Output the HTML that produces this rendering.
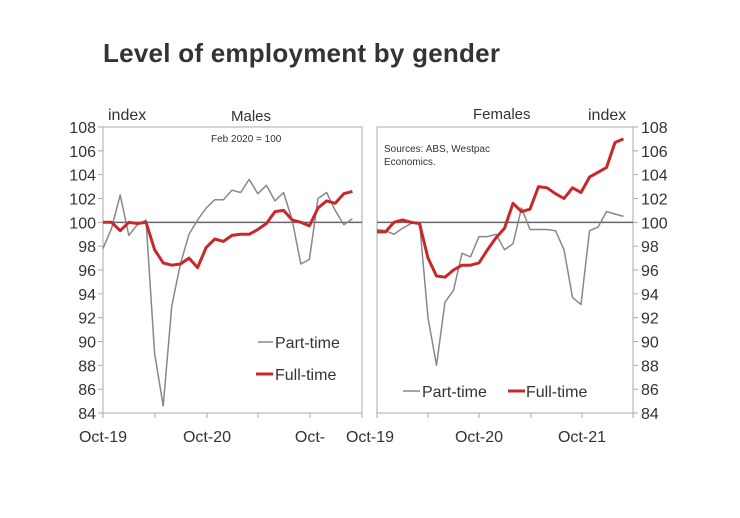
<!DOCTYPE html>
<html><head><meta charset="utf-8"><style>
body{margin:0;background:#fff;}
svg text{font-family:"Liberation Sans",Arial,sans-serif;fill:#333;}
</style></head><body>
<svg id="s" width="740" height="513" xmlns="http://www.w3.org/2000/svg">
<text x="103" y="62" font-size="26" font-weight="bold" fill="#333" textLength="397">Level of employment by gender</text>
<rect x="103" y="127" width="259" height="286" fill="none" stroke="#aaa" stroke-width="1"/>
<rect x="377" y="127" width="256" height="286" fill="none" stroke="#aaa" stroke-width="1"/>
<text x="108" y="120" font-size="16">index</text>
<text x="231" y="121" font-size="15">Males</text>
<text x="211" y="142" font-size="10">Feb 2020 = 100</text>
<text x="473" y="119" font-size="15">Females</text>
<text x="588" y="120" font-size="16">index</text>
<text x="384" y="152" font-size="10">Sources: ABS, Westpac</text>
<text x="384" y="165" font-size="10">Economics.</text>
<g id="g"></g>
<line x1="258" y1="342" x2="273" y2="342" stroke="#888" stroke-width="1.5"/>
<text x="275" y="348" font-size="16">Part-time</text>
<line x1="256" y1="374" x2="273" y2="374" stroke="#c8282a" stroke-width="3"/>
<text x="275" y="380" font-size="16">Full-time</text>
<line x1="403" y1="391" x2="420" y2="391" stroke="#888" stroke-width="1.5"/>
<text x="422" y="397" font-size="16">Part-time</text>
<line x1="508" y1="391" x2="525" y2="391" stroke="#c8282a" stroke-width="3"/>
<text x="526" y="397" font-size="16">Full-time</text>
<g font-size="16" text-anchor="middle">
<text x="103" y="442">Oct-19</text><text x="207" y="442">Oct-20</text><text x="310" y="442">Oct-</text>
<text x="370" y="442">Oct-19</text><text x="479" y="442">Oct-20</text><text x="582" y="442">Oct-21</text>
</g>
</svg>
<script>
var g=document.getElementById('g'),NS='http://www.w3.org/2000/svg';
function Y(v){return 127+(108-v)*11.917;}
function el(n,a,t){var e=document.createElementNS(NS,n);for(var k in a)e.setAttribute(k,a[k]);if(t!=null)e.textContent=t;g.appendChild(e);return e;}
for(var v=84;v<=108;v+=2){
 el('text',{x:96,y:Y(v)+6,'font-size':16,'text-anchor':'end'},v);
 el('text',{x:641,y:Y(v)+6,'font-size':16},v);
 el('line',{x1:633,y1:Y(v),x2:638,y2:Y(v),stroke:'#aaa'});
 el('line',{x1:98,y1:Y(v),x2:103,y2:Y(v),stroke:'#aaa'});
}
[103,155,207,258,310,362].forEach(function(x){el('line',{x1:x,y1:413,x2:x,y2:418,stroke:'#aaa'});});
[377,428,479,531,582,633].forEach(function(x){el('line',{x1:x,y1:413,x2:x,y2:418,stroke:'#aaa'});});
el('line',{x1:103,y1:Y(100),x2:362,y2:Y(100),stroke:'#666','stroke-width':1.5});
el('line',{x1:377,y1:Y(100),x2:633,y2:Y(100),stroke:'#666','stroke-width':1.5});
function pl(x0,dx,d,c,w){var p=d.map(function(v,i){return (x0+i*dx).toFixed(1)+','+Y(v).toFixed(1);}).join(' ');
 el('polyline',{points:p,fill:'none',stroke:c,'stroke-width':w,'stroke-linejoin':'round'});}
var mpt=[97.8,99.5,102.3,98.9,99.8,100.2,89,84.6,93,96.5,99,100.2,101.2,101.9,101.9,102.7,102.5,103.6,102.4,103.1,101.8,102.5,100.2,96.5,96.9,102,102.5,101,99.8,100.3];
var mft=[100,100,99.3,100,99.9,100,97.7,96.6,96.4,96.5,97,96.2,97.9,98.6,98.4,98.9,99,99,99.4,99.9,100.9,101,100.2,100,99.7,101.2,101.8,101.6,102.4,102.6];
var fpt=[99.4,99.3,99,99.5,99.9,100,92,88,93.3,94.3,97.4,97.1,98.8,98.8,99,97.7,98.2,101.2,99.4,99.4,99.4,99.3,97.7,93.7,93.1,99.3,99.6,100.9,100.7,100.5];
var fft=[99.2,99.2,100,100.2,100,99.9,97,95.5,95.4,96,96.4,96.4,96.6,97.7,98.7,99.5,101.6,100.9,101.1,103,102.9,102.4,102,102.9,102.5,103.8,104.2,104.6,106.7,107];
pl(103,8.6,mpt,'#888',1.5);pl(103,8.6,mft,'#c8282a',3);
pl(377,8.5,fpt,'#888',1.5);pl(377,8.5,fft,'#c8282a',3);
</script>
</body></html>
